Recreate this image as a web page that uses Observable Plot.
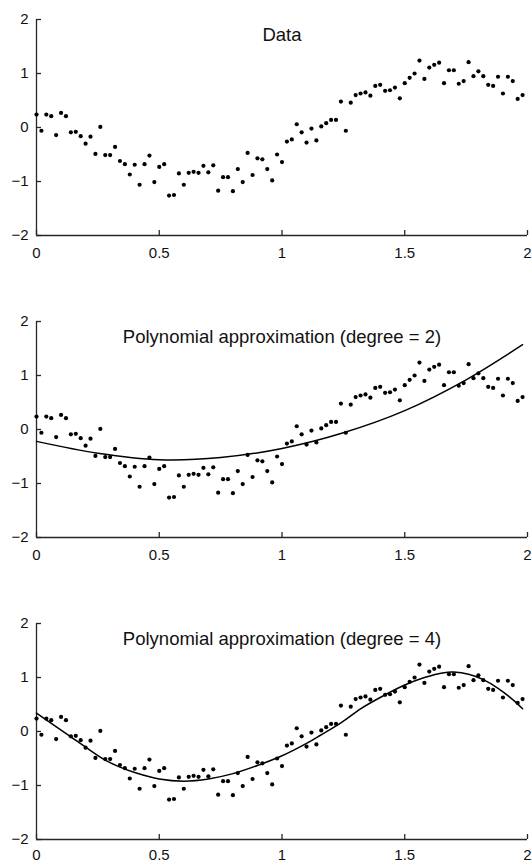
<!DOCTYPE html>
<html>
<head>
<meta charset="utf-8">
<script src="https://cdn.jsdelivr.net/npm/d3@7"></script>
<script src="https://cdn.jsdelivr.net/npm/@observablehq/plot@0.6"></script>
<style>
  html, body { margin: 0; padding: 0; background: #fff; }
  #chart svg { display: block; }
</style>
</head>
<body>
<div id="chart"></div>
<script>
// ---- data ----
const xs = [0.00,0.02,0.04,0.06,0.08,0.10,0.12,0.14,0.16,0.18,
            0.20,0.22,0.24,0.26,0.28,0.30,0.32,0.34,0.36,0.38,
            0.40,0.42,0.44,0.46,0.48,0.50,0.52,0.54,0.56,0.58,
            0.60,0.62,0.64,0.66,0.68,0.70,0.72,0.74,0.76,0.78,
            0.80,0.82,0.84,0.86,0.88,0.90,0.92,0.94,0.96,0.98,
            1.00,1.02,1.04,1.06,1.08,1.10,1.12,1.14,1.16,1.18,
            1.20,1.22,1.24,1.26,1.28,1.30,1.32,1.34,1.36,1.38,
            1.40,1.42,1.44,1.46,1.48,1.50,1.52,1.54,1.56,1.58,
            1.60,1.62,1.64,1.66,1.68,1.70,1.72,1.74,1.76,1.78,
            1.80,1.82,1.84,1.86,1.88,1.90,1.92,1.94,1.96,1.98];
const ys = [0.24,-0.06,0.24,0.21,-0.14,0.27,0.21,-0.09,-0.08,-0.16,
            -0.30,-0.17,-0.49,0.01,-0.51,-0.51,-0.36,-0.62,-0.68,-0.87,
            -0.69,-1.06,-0.68,-0.52,-1.01,-0.73,-0.68,-1.26,-1.25,-0.85,
            -1.06,-0.84,-0.82,-0.84,-0.71,-0.83,-0.70,-1.17,-0.92,-0.92,
            -1.18,-0.77,-1.01,-0.47,-0.88,-0.57,-0.59,-0.77,-0.98,-0.50,
            -0.64,-0.26,-0.22,0.06,-0.09,-0.28,-0.02,-0.24,0.02,0.08,
            0.14,0.14,0.48,-0.06,0.46,0.60,0.63,0.65,0.59,0.77,
            0.79,0.68,0.69,0.74,0.54,0.82,0.92,1.00,1.24,0.90,
            1.11,1.16,1.20,0.82,1.06,1.06,0.81,0.86,1.21,0.95,
            1.04,0.95,0.79,0.77,0.94,0.63,0.94,0.86,0.53,0.60];

// fitted curves
const fit2X = [0, 0.25, 0.5, 0.75, 1.0, 1.25, 1.5, 1.75, 1.98];
const fit2Y = [-0.22, -0.44, -0.56, -0.52, -0.35, -0.06, 0.35, 0.92, 1.57];
const fit4X = [0, 0.14, 0.2, 0.28, 0.34, 0.4, 0.5, 0.6, 0.7, 0.8, 0.9, 1.0, 1.1, 1.16, 1.24, 1.32, 1.4, 1.5, 1.58, 1.66, 1.7, 1.76, 1.82, 1.88, 1.94, 1.98];
const fit4Y = [0.34, -0.10, -0.29, -0.53, -0.66, -0.76, -0.88, -0.92, -0.88, -0.78, -0.63, -0.45, -0.22, -0.06, 0.16, 0.42, 0.63, 0.86, 1.0, 1.09, 1.10, 1.06, 0.96, 0.80, 0.59, 0.42];

const titles = ["Data", "Polynomial approximation (degree = 2)", "Polynomial approximation (degree = 4)"];
const xDomain = [0, 2];
const yDomain = [-2, 2];
const xTicks = [0, 0.5, 1, 1.5, 2];
const yTicks = [-2, -1, 0, 1, 2];

// ---- build tables ----
const points = xs.map((x, i) => ({x, y: ys[i]}));
const fit2 = fit2X.map((x, i) => ({x, y: fit2Y[i]}));
const fit4 = fit4X.map((x, i) => ({x, y: fit4Y[i]}));

const FONT = "'Liberation Sans', Arial, Helvetica, sans-serif";
const AXIS = "#262626";
const PLOT_W = 532 - 36 - 5;
const PLOT_H = 216;
const fmt = d3.format("");

function panel(title, fit, height, marginBottom, pad) {
  return Plot.plot({
    width: 532,
    height,
    marginLeft: 36,
    marginRight: 5,
    marginTop: 19,
    marginBottom,
    style: {fontFamily: FONT, fontSize: "15px", color: "#111", background: "#fff", overflow: "visible"},
    x: {domain: xDomain, ticks: xTicks, tickFormat: fmt},
    y: {domain: yDomain, ticks: yTicks, tickFormat: fmt},
    marks: [
      Plot.axisX(xTicks, {tickSize: 0, tickPadding: pad, fontSize: 15, tickFormat: fmt, label: null}),
      Plot.axisY(yTicks, {tickSize: 0, tickPadding: 8, fontSize: 15, tickFormat: fmt, label: null}),
      Plot.ruleX(xDomain.slice(0, 1), {stroke: AXIS, strokeWidth: 1.3}),
      Plot.ruleY(yDomain.slice(0, 1), {stroke: AXIS, strokeWidth: 1.3}),
      Plot.ruleX(xTicks, {insetTop: PLOT_H - 5, stroke: AXIS, strokeWidth: 1.3}),
      Plot.ruleY(yTicks, {insetRight: PLOT_W - 5, stroke: AXIS, strokeWidth: 1.3}),
      Plot.dot(points, {x: "x", y: "y", r: 2.1, fill: "#000", stroke: null}),
      fit ? Plot.line(fit, {x: "x", y: "y", stroke: "#000", strokeWidth: 1.5, curve: "catmull-rom"}) : null,
      Plot.text([title], {frameAnchor: "top", dy: 15.5, lineAnchor: "middle", fontSize: 18.5, fill: "#111"})
    ]
  });
}

const root = document.getElementById("chart");
root.append(panel(titles[0], null, 302, 67, 12));
root.append(panel(titles[1], fit2, 302, 67, 12));
root.append(panel(titles[2], fit4, 259, 24, 10));
</script>
</body>
</html>
